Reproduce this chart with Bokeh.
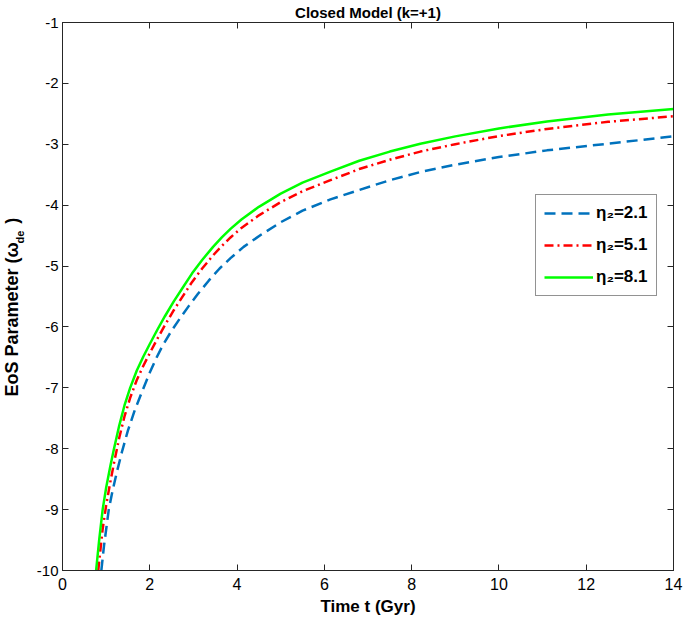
import numpy as np
from bokeh.plotting import figure
from bokeh.models import (Range1d, LinearAxis, Label, Legend, LegendItem, FixedTicker,
                          CustomLabelingPolicy)
from bokeh.embed import file_html
from bokeh.resources import INLINE

# ---- data ----
t_eta21 = [0.89, 0.95, 1.06, 1.15, 1.25, 1.37, 1.5, 1.65, 1.83, 2.0, 2.15, 2.3, 2.5, 2.7,
           2.9, 3.1, 3.35, 3.6, 3.85, 4.15, 4.54, 5.0, 5.5, 6.14, 6.8, 7.5, 8.2, 9.0,
           10.0, 11.1, 12.5, 14.0]
w_eta21 = [-10.0, -9.6, -9.0, -8.68, -8.37, -8.03, -7.7, -7.38, -7.05, -6.75, -6.51, -6.3,
           -6.06, -5.85, -5.65, -5.46, -5.24, -5.04, -4.87, -4.685, -4.49, -4.28, -4.09,
           -3.905, -3.75, -3.59, -3.455, -3.335, -3.21, -3.10, -2.99, -2.87]

t_eta51 = [0.82, 0.84, 0.92, 1.0, 1.1, 1.18, 1.3, 1.42, 1.55, 1.7, 1.85, 2.0, 2.17, 2.35,
           2.55, 2.75, 2.97, 3.2, 3.45, 3.65, 3.85, 4.1, 4.5, 5.0, 5.5, 6.14, 6.8, 7.5,
           8.2, 9.0, 10.0, 11.1, 12.5, 14.0]
w_eta51 = [-10.0, -9.85, -9.32, -8.93, -8.53, -8.235, -7.82, -7.47, -7.165, -6.875, -6.642,
           -6.43, -6.198, -5.967, -5.725, -5.503, -5.26, -5.04, -4.825, -4.67, -4.53,
           -4.375, -4.167, -3.95, -3.77, -3.59, -3.407, -3.253, -3.12, -2.998, -2.865,
           -2.748, -2.631, -2.54]

t_eta81 = [0.77, 0.84, 0.92, 1.0, 1.1, 1.18, 1.3, 1.42, 1.55, 1.7, 1.85, 2.0, 2.17, 2.35,
           2.55, 2.75, 2.97, 3.2, 3.45, 3.65, 3.85, 4.1, 4.5, 5.0, 5.5, 6.14, 6.8, 7.5,
           8.2, 9.0, 10.0, 11.1, 12.5, 14.0]
w_eta81 = [-10.0, -9.5, -9.0, -8.64, -8.27, -8.0, -7.62, -7.29, -7.0, -6.72, -6.49, -6.28,
           -6.05, -5.82, -5.58, -5.36, -5.12, -4.90, -4.685, -4.53, -4.39, -4.235, -4.027,
           -3.81, -3.63, -3.45, -3.27, -3.12, -2.99, -2.87, -2.74, -2.625, -2.51, -2.42]

series_labels = ["η₂=2.1", "η₂=5.1", "η₂=8.1"]
x_ticks = [0, 2, 4, 6, 8, 10, 12, 14]
y_ticks = [-10, -9, -8, -7, -6, -5, -4, -3, -2, -1]
title_text = "Closed Model (k=+1)"
x_label = "Time t (Gyr)"
y_label_main = "EoS Parameter (ω\u00a0\u00a0\u00a0\u2009)"
y_label_sub = "de"

FONT = "Liberation Sans"
AX = "#262626"

p = figure(width=685, height=624, output_backend="svg", toolbar_location=None,
           x_range=Range1d(0, 14), y_range=Range1d(-10, -1),
           min_border_left=62, min_border_right=12, min_border_top=22, min_border_bottom=54,
           background_fill_color="white", border_fill_color="white")
p.grid.visible = False
p.outline_line_color = AX
p.outline_line_width = 1

p.title.text = title_text
p.title.align = "center"
p.title.text_font = FONT
p.title.text_font_style = "bold"
p.title.text_font_size = "15px"
p.title.text_color = "black"
p.title.standoff = 3

def style_axis(ax, show_labels, size="16px"):
    ax.axis_line_color = AX
    ax.axis_line_width = 1
    ax.major_tick_line_color = AX
    ax.major_tick_in = 6
    ax.major_tick_out = 0
    ax.minor_tick_line_color = None
    ax.major_label_text_font = FONT
    ax.major_label_text_color = "black"
    if show_labels:
        ax.major_label_text_font_size = size
        ax.major_label_standoff = 7
    else:
        # box-only axes (top/right): ticks but no labels drawn at all
        ax.major_label_text_font_size = "0px"
        ax.major_label_standoff = 0
        ax.major_label_policy = CustomLabelingPolicy(
            code="for (const i of Array.from(indices)) { indices.unset(i) } return indices")

p.xaxis.ticker = FixedTicker(ticks=x_ticks)
p.yaxis.ticker = FixedTicker(ticks=y_ticks)
p.xaxis.major_label_overrides = {v: str(v) for v in x_ticks}
p.yaxis.major_label_overrides = {v: str(v) for v in y_ticks}
style_axis(p.xaxis[0], True, "16px")
style_axis(p.yaxis[0], True, "15px")
p.yaxis[0].major_label_standoff = 4
p.xaxis.axis_label = x_label
p.xaxis.axis_label_text_font = FONT
p.xaxis.axis_label_text_font_style = "bold"
p.xaxis.axis_label_text_font_size = "17px"
p.xaxis.axis_label_text_color = "black"
p.xaxis.axis_label_standoff = 4

top_ax = LinearAxis(ticker=FixedTicker(ticks=x_ticks))
right_ax = LinearAxis(ticker=FixedTicker(ticks=y_ticks))
style_axis(top_ax, False)
style_axis(right_ax, False)
p.add_layout(top_ax, "above")
p.add_layout(right_ax, "right")

r1 = p.line(t_eta21, w_eta21, line_color="#0072BD", line_width=2.5, line_dash="11 6")
r2 = p.line(t_eta51, w_eta51, line_color="#FF0000", line_width=2.5, line_dash="9 4 2 4")
r3 = p.line(t_eta81, w_eta81, line_color="#00FF00", line_width=2.5)

legend = Legend(items=[LegendItem(label=series_labels[0], renderers=[r1]),
                       LegendItem(label=series_labels[1], renderers=[r2]),
                       LegendItem(label=series_labels[2], renderers=[r3])],
                location=(473, 274))
legend.border_line_color = AX
legend.border_line_width = 1
legend.background_fill_color = "white"
legend.background_fill_alpha = 1
legend.label_text_font = FONT
legend.label_text_font_style = "bold"
legend.label_text_font_size = "17px"
legend.label_text_color = "black"
legend.glyph_width = 49
legend.glyph_height = 20
legend.label_height = 20
legend.label_standoff = 3
legend.spacing = 12
legend.padding = 8
legend.margin = 0
p.add_layout(legend, "center")

# y label: rotated labels in the left side panel (side-panel annotations are not clipped)
ang = np.pi / 2
main_lab = Label(x=-2, y=174, x_units="screen", y_units="screen", text=y_label_main,
                 angle=ang, text_font=FONT, text_font_style="bold", text_font_size="18px",
                 text_align="left", text_baseline="middle", text_color="black")
p.add_layout(main_lab, "left")
sub_lab = Label(x=18, y=327, x_units="screen", y_units="screen", text=y_label_sub,
                angle=ang, text_font=FONT, text_font_style="bold", text_font_size="11px",
                text_align="left", text_baseline="middle", text_color="black")
p.add_layout(sub_lab, "left")

open("out.html", "w").write(file_html(p, INLINE))
